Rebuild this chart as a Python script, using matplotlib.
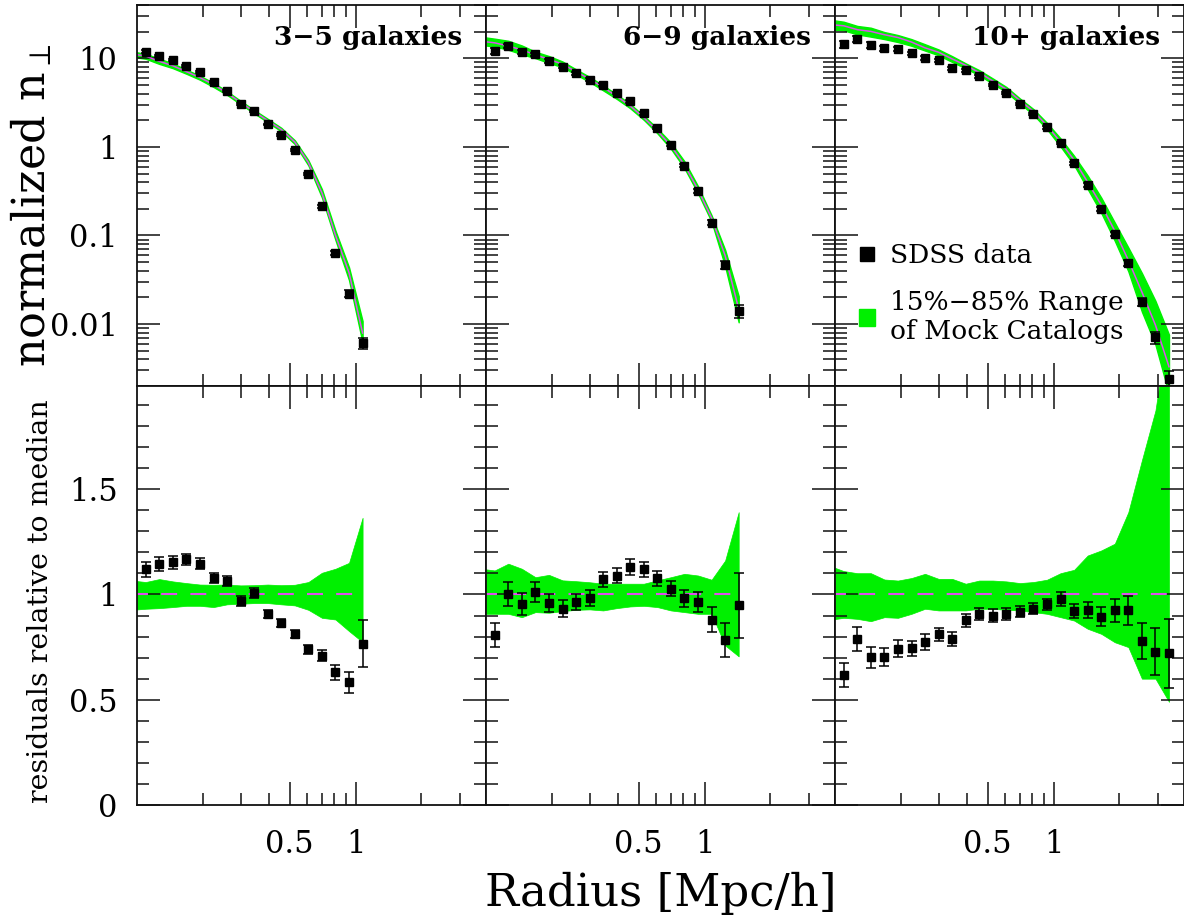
import numpy as np
import matplotlib
matplotlib.use("Agg")
import matplotlib.pyplot as plt
from matplotlib.ticker import (FixedLocator, FixedFormatter, NullFormatter,
                               MultipleLocator, LogLocator, FuncFormatter)
from matplotlib.lines import Line2D
from matplotlib.patches import Patch

plt.rcParams['font.family'] = ['DejaVu Serif']
plt.rcParams['mathtext.fontset'] = 'dejavuserif'
plt.rcParams['lines.scale_dashes'] = False

# ---------------------------------------------------------------------------
# Radial bins [Mpc/h] (shared by all richness classes)
radius = [0.1096, 0.1265, 0.1459, 0.1683, 0.1941, 0.2239, 0.2582, 0.2979,
          0.3436, 0.3963, 0.4571, 0.5272, 0.6081, 0.7015, 0.8091, 0.9333,
          1.0765, 1.2417, 1.4322, 1.6520, 1.9055, 2.1979, 2.5351, 2.9242,
          3.3729]
# inner bin of the mock envelope (lies just inside the plotted range)
edge_radius = 0.0951

titles = ["3\u22125 galaxies", "6\u22129 galaxies", "10+ galaxies"]

# SDSS projected number density profiles
n_sdss_35 = [11.87, 10.6, 9.49, 8.25, 6.95, 5.45, 4.31, 3.07, 2.52, 1.80,
             1.36, 0.923, 0.494, 0.214, 0.0635, 0.0221, 0.00607]
n_sdss_69 = [12.09, 13.77, 11.87, 11.09, 9.32, 8.04, 6.82, 5.73, 5.04, 4.06,
             3.27, 2.39, 1.63, 1.059, 0.614, 0.318, 0.139, 0.0465, 0.01406]
n_sdss_10 = [14.38, 16.63, 14.13, 12.97, 12.74, 11.38, 10.16, 9.49, 7.77,
             7.32, 6.26, 5.00, 4.06, 3.07, 2.35, 1.66, 1.107, 0.653, 0.371,
             0.1977, 0.104, 0.0485, 0.0179, 0.0071, 0.00238]

# SDSS profile divided by the mock median
resid_35 = [1.119, 1.146, 1.152, 1.166, 1.146, 1.079, 1.062, 0.968, 1.008,
            0.908, 0.864, 0.813, 0.740, 0.709, 0.630, 0.582, 0.766]
resid_69 = [0.808, 1.000, 0.954, 1.011, 0.960, 0.932, 0.965, 0.983, 1.071,
            1.089, 1.130, 1.119, 1.076, 1.027, 0.981, 0.964, 0.881, 0.785,
            0.948]
resid_10 = [0.617, 0.789, 0.702, 0.702, 0.742, 0.745, 0.774, 0.810, 0.789,
            0.877, 0.908, 0.900, 0.908, 0.919, 0.932, 0.953, 0.979, 0.921,
            0.927, 0.894, 0.924, 0.924, 0.778, 0.729, 0.721]

# 1-sigma errors in units of the mock median
err_35 = [0.037, 0.033, 0.030, 0.028, 0.025, 0.024, 0.024, 0.024, 0.024,
          0.019, 0.020, 0.019, 0.021, 0.025, 0.036, 0.050, 0.111]
err_69 = [0.058, 0.057, 0.052, 0.049, 0.044, 0.040, 0.039, 0.036, 0.036,
          0.035, 0.037, 0.036, 0.037, 0.036, 0.042, 0.048, 0.059, 0.080,
          0.153]
err_10 = [0.057, 0.057, 0.049, 0.044, 0.040, 0.036, 0.036, 0.033, 0.032,
          0.030, 0.028, 0.029, 0.027, 0.027, 0.027, 0.027, 0.033, 0.033,
          0.039, 0.046, 0.055, 0.071, 0.086, 0.111, 0.164]

# mock median at the inner envelope bin
median_edge = [11.2, 15.6, 24.0]

# 15% and 85% mock quantiles relative to the median (inner bin first)
lo_35 = [0.927, 0.932, 0.935, 0.940, 0.946, 0.946, 0.940, 0.953, 0.956,
         0.959, 0.959, 0.953, 0.948, 0.927, 0.889, 0.881, 0.826, 0.774]
hi_35 = [1.066, 1.059, 1.073, 1.062, 1.054, 1.047, 1.046, 1.047, 1.043,
         1.044, 1.047, 1.044, 1.046, 1.059, 1.103, 1.122, 1.150, 1.364]
lo_69 = [0.908, 0.908, 0.908, 0.892, 0.916, 0.913, 0.921, 0.927, 0.929,
         0.924, 0.935, 0.943, 0.946, 0.940, 0.924, 0.916, 0.908, 0.908,
         0.758, 0.706]
hi_69 = [1.122, 1.114, 1.146, 1.122, 1.082, 1.093, 1.067, 1.063, 1.058,
         1.051, 1.051, 1.051, 1.051, 1.067, 1.082, 1.098, 1.090, 1.070,
         1.161, 1.391]
lo_10 = [0.880, 0.889, 0.884, 0.873, 0.892, 0.889, 0.908, 0.932, 0.924,
         0.924, 0.924, 0.932, 0.932, 0.927, 0.924, 0.916, 0.908, 0.892,
         0.876, 0.837, 0.813, 0.773, 0.750, 0.600, 0.600, 0.490]
hi_10 = [1.135, 1.111, 1.101, 1.101, 1.071, 1.066, 1.078, 1.098, 1.074,
         1.074, 1.051, 1.066, 1.066, 1.062, 1.054, 1.059, 1.070, 1.101,
         1.117, 1.185, 1.209, 1.241, 1.391, 1.637, 1.874, 2.300]

groups = [
    (n_sdss_35, resid_35, err_35, lo_35, hi_35),
    (n_sdss_69, resid_69, err_69, lo_69, hi_69),
    (n_sdss_10, resid_10, err_10, lo_10, hi_10),
]

# ---------------------------------------------------------------------------
GREEN = '#00f000'
MAGENTA = '#dc50ec'
FIG_W, FIG_H = 1184, 915

fig = plt.figure(figsize=(FIG_W / 100, FIG_H / 100), dpi=100)

x_left, x_right = 137 / FIG_W, 1.0
y_bot, y_mid, y_top = (FIG_H - 805) / FIG_H, (FIG_H - 386) / FIG_H, (FIG_H - 5) / FIG_H
pw = (x_right - x_left) / 3

fmt_g = FuncFormatter(lambda v, p: f"{v:g}")


def style_axis(ax):
    ax.set_xscale('log')
    ax.set_xlim(0.1, 3.95)
    ax.xaxis.set_major_locator(FixedLocator([0.5, 1.0]))
    ax.xaxis.set_major_formatter(FixedFormatter(['0.5', '1']))
    ax.xaxis.set_minor_locator(FixedLocator([0.2, 0.3, 0.4, 0.6, 0.7, 0.8, 0.9, 2, 3]))
    ax.xaxis.set_minor_formatter(NullFormatter())
    ax.tick_params(which='both', direction='in', top=True, right=True,
                   width=1.1, color='#111111', labelsize=22)
    ax.tick_params(which='major', length=16.5)
    ax.tick_params(which='minor', length=8.5)
    ax.tick_params(axis='y', pad=14)
    ax.tick_params(axis='x', pad=17)
    for s in ax.spines.values():
        s.set_linewidth(1.3)
        s.set_color('#111111')


for i, (n_obs, resid, err, lo, hi) in enumerate(groups):
    n = len(n_obs)
    r = np.array(radius[:n])
    n_obs = np.array(n_obs)
    resid = np.array(resid)
    err = np.array(err)
    median = n_obs / resid

    r_band = np.concatenate([[edge_radius], r])
    med_band = np.concatenate([[median_edge[i]], median])
    lo = np.array(lo)
    hi = np.array(hi)

    # ---------------- profile panel ----------------
    ax = fig.add_axes([x_left + i * pw, y_mid, pw, y_top - y_mid])
    style_axis(ax)
    ax.set_yscale('log')
    ax.set_ylim(0.002, 40)
    ax.yaxis.set_major_locator(FixedLocator([0.01, 0.1, 1, 10]))
    ax.yaxis.set_major_formatter(fmt_g)
    ax.yaxis.set_minor_locator(LogLocator(base=10, subs=np.arange(2, 10)))
    ax.yaxis.set_minor_formatter(NullFormatter())
    ax.tick_params(labelbottom=False, labelleft=(i == 0))

    ax.fill_between(r_band, med_band * lo, med_band * hi, color=GREEN,
                    linewidth=1.0, edgecolor=GREEN, zorder=1)
    ax.plot(r_band, med_band, color=MAGENTA, lw=1.1, zorder=2)
    ax.errorbar(r, n_obs, yerr=err * median, fmt='s', color='black',
                ms=5.2, elinewidth=1.1, capsize=3.5, capthick=1.1, zorder=3)
    ax.text(0.931, 0.895, titles[i], transform=ax.transAxes, ha='right',
            va='baseline', fontsize=19, fontweight='bold')

    if i == 2:
        handles = [Line2D([], [], marker='s', ls='none', color='black', ms=10),
                   Patch(facecolor=GREEN, edgecolor=GREEN)]
        ax.legend(handles, ['SDSS data', '15%\u221285% Range\nof Mock Catalogs'],
                  loc='upper left', bbox_to_anchor=(0.07, 0.376), frameon=False,
                  fontsize=19, handlelength=0.6, handleheight=0.6,
                  handletextpad=0.55, labelspacing=0.85, borderpad=0,
                  borderaxespad=0)

    # ---------------- residual panel ----------------
    axr = fig.add_axes([x_left + i * pw, y_bot, pw, y_mid - y_bot])
    style_axis(axr)
    axr.set_ylim(0, 1.99)
    axr.yaxis.set_major_locator(MultipleLocator(0.5))
    axr.yaxis.set_minor_locator(MultipleLocator(0.1))
    axr.yaxis.set_major_formatter(fmt_g)
    axr.tick_params(labelleft=(i == 0))

    axr.fill_between(r_band, lo, hi, color=GREEN, linewidth=0.5,
                     edgecolor=GREEN, zorder=1)
    axr.plot(r_band, med_band / med_band, color=MAGENTA, lw=1.5,
             ls=(0, (11.5, 9.5)), zorder=2)
    axr.errorbar(r, resid, yerr=err, fmt='s', color='black', ms=6,
                 elinewidth=1.1, capsize=3.8, capthick=1.1, zorder=3)

fig.text(0.0456, ((FIG_H - 205) / FIG_H), r'normalized n$_{\perp}$', rotation=90,
         ha='right', va='center', fontsize=32)
fig.text(0.0456, ((FIG_H - 601) / FIG_H), 'residuals relative to median',
         rotation=90, ha='right', va='center', fontsize=20.5)
fig.text((137 + 1184) / 2 / FIG_W, 9 / FIG_H, 'Radius [Mpc/h]', ha='center',
         va='baseline', fontsize=32.5)

fig.savefig('out.png', dpi=100)
